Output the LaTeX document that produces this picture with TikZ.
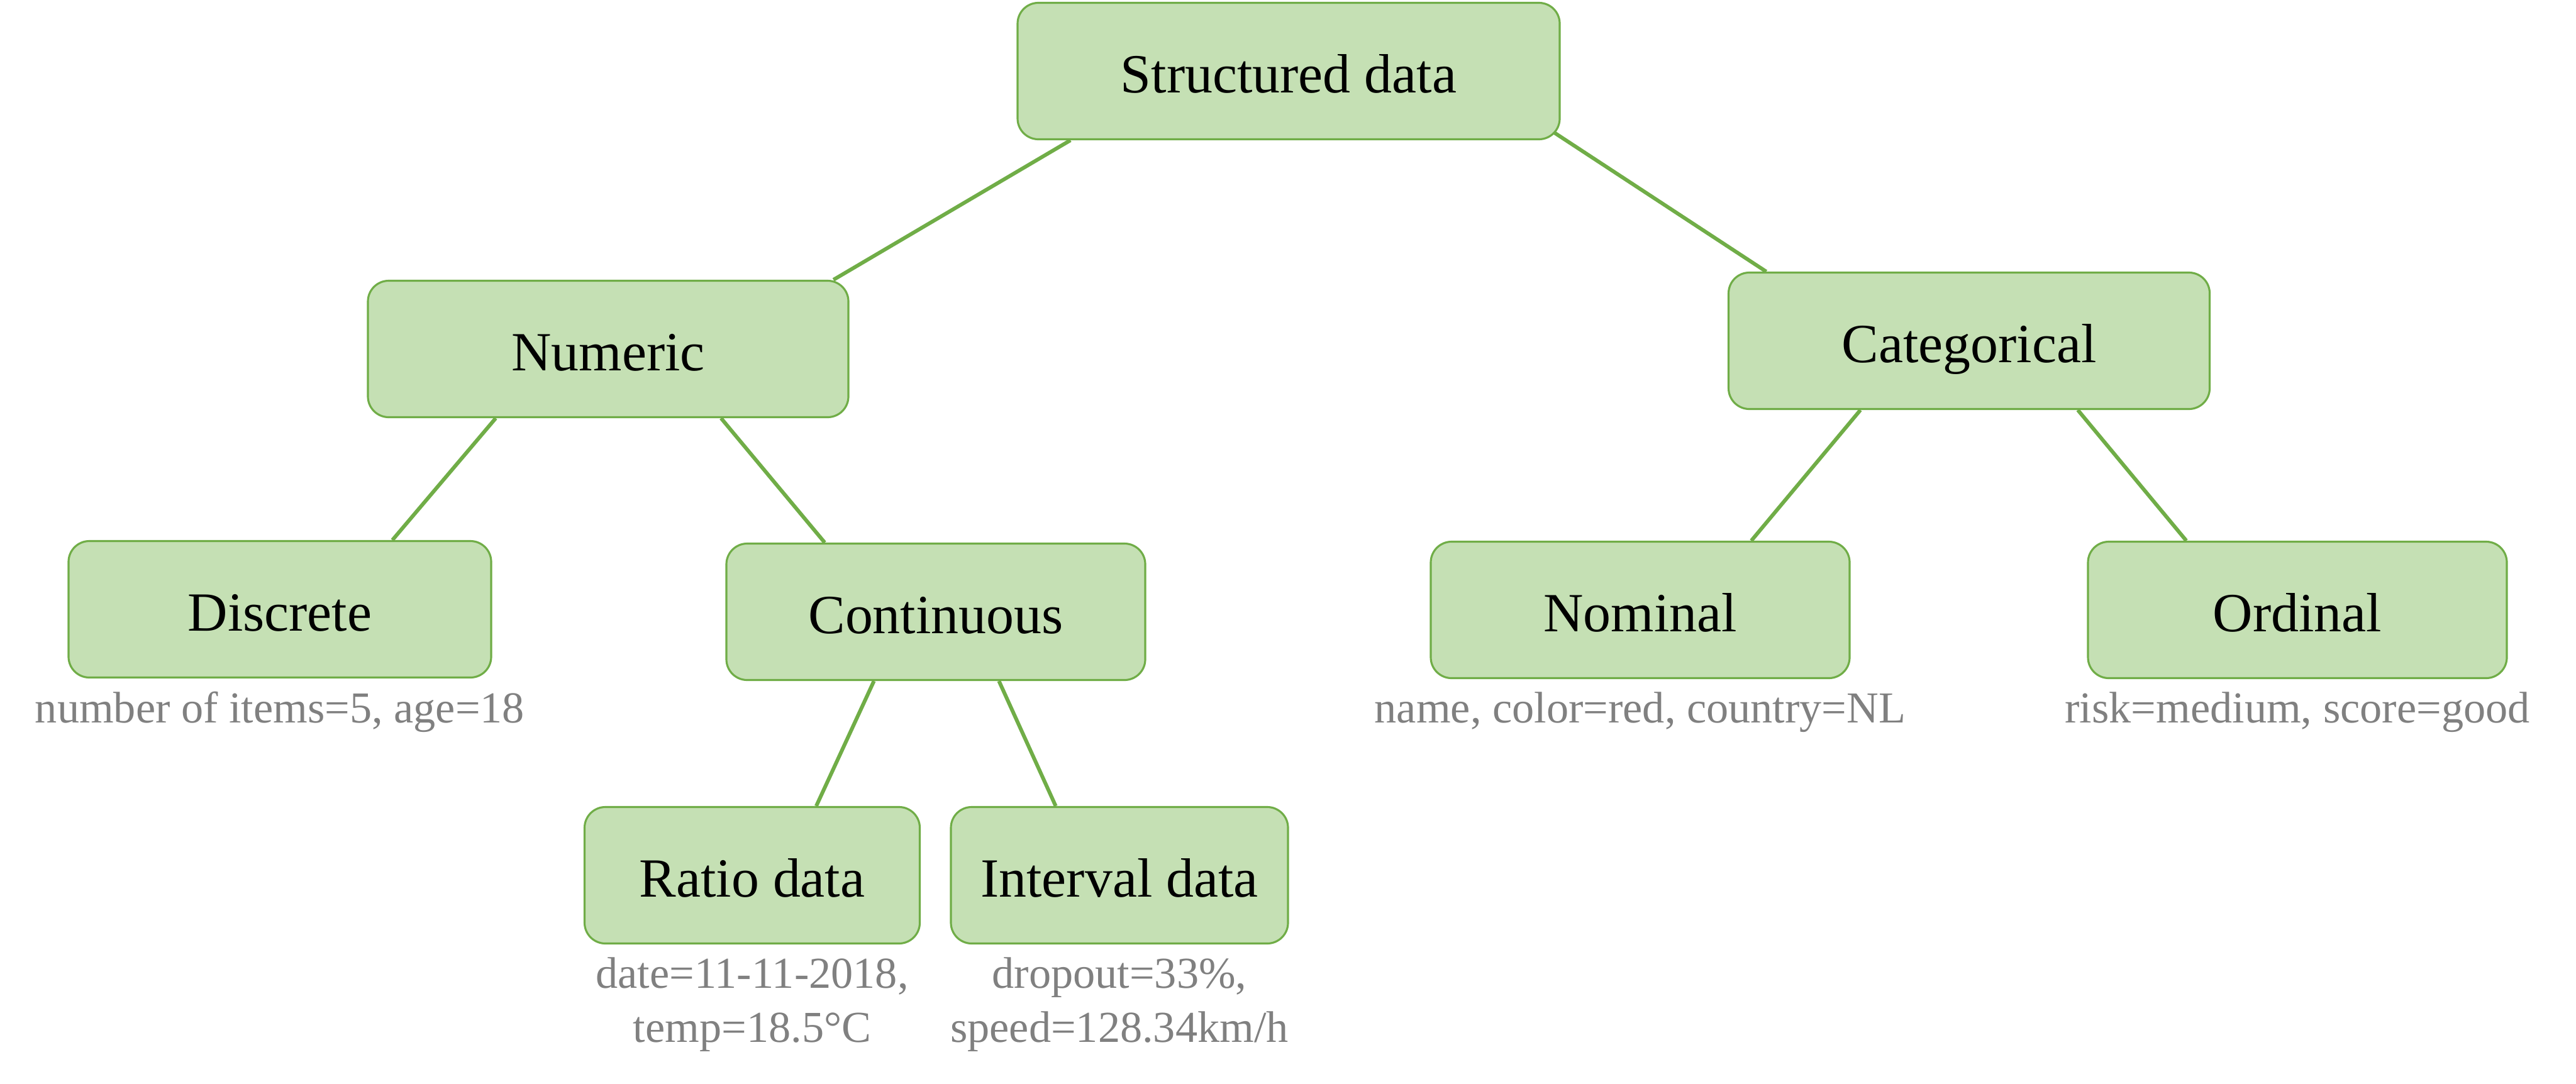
\documentclass[tikz,border=0pt]{standalone}
\usepackage{fontspec}
\setmainfont{Liberation Serif}
\usetikzlibrary{positioning,calc}
\definecolor{boxfill}{HTML}{C5E0B4}
\definecolor{boxline}{HTML}{70AD47}
\definecolor{notegray}{HTML}{808080}

\begin{document}
\begin{tikzpicture}
\tikzstyle{box}=[rectangle, rounded corners=0.33cm, draw=boxline, line width=0.9pt, fill=boxfill, minimum height=2.17cm, inner sep=0pt, text height=0.68cm, text depth=0pt, font=\fontsize{25}{30}\selectfont]
\tikzstyle{note}=[inner sep=0pt, align=center, text=notegray, font=\fontsize{20}{24.5}\selectfont]
\tikzstyle{link}=[draw=boxline, line width=1.7pt]

\useasboundingbox (0,0) rectangle (40.96,-17.23);

% first two levels
\node[box, minimum width=8.62cm] (sd) at (20.49,-1.13) {Structured data};
\node[box, minimum width=7.64cm] (num) at (9.67,-5.55) {Numeric};
\node[box, minimum width=7.65cm] (cat) at (31.31,-5.42) {Categorical};

% leaves
\node[box, minimum width=6.72cm] (disc) at (4.45,-9.69) {Discrete};
\node[box, minimum width=6.66cm] (cont) at (14.88,-9.73) {Continuous};
\node[box, minimum width=6.66cm] (nom) at (26.08,-9.70) {Nominal};
\node[box, minimum width=6.66cm] (ord) at (36.53,-9.70) {Ordinal};
\node[box, minimum width=5.33cm] (ratio) at (11.96,-13.92) {Ratio data};
\node[box, minimum width=5.36cm] (interval) at (17.80,-13.92) {Interval data};

% examples
\node[note, below=2mm of disc] (discnote) {number of items=5, age=18};
\node[note, below=2mm of nom] (nomnote) {name, color=red, country=NL};
\node[note, below=2mm of ord] (ordnote) {risk=medium, score=good};
\node[note, below=2mm of ratio] (rationote) {date=11-11-2018,\\temp=18.5°C};
\node[note, below=2mm of interval] (intervalnote) {dropout=33\%,\\speed=128.34km/h};

\draw[link] ($(sd.south west)!0.099!(sd.south east)$) -- ($(num.north west)!0.967!(num.north east)$);
\draw[link] ($(sd.south east)+(-0.10,0.12)$) -- ($(cat.north west)!0.080!(cat.north east)$);
\foreach \a/\fa/\b/\fb in {num/0.267/disc/0.765, num/0.734/cont/0.236,
  cont/0.353/ratio/0.690, cont/0.650/interval/0.312,
  cat/0.275/nom/0.764, cat/0.725/ord/0.236} {
  \draw[link] ($(\a.south west)!\fa!(\a.south east)$) -- ($(\b.north west)!\fb!(\b.north east)$);}
\end{tikzpicture}
\end{document}
